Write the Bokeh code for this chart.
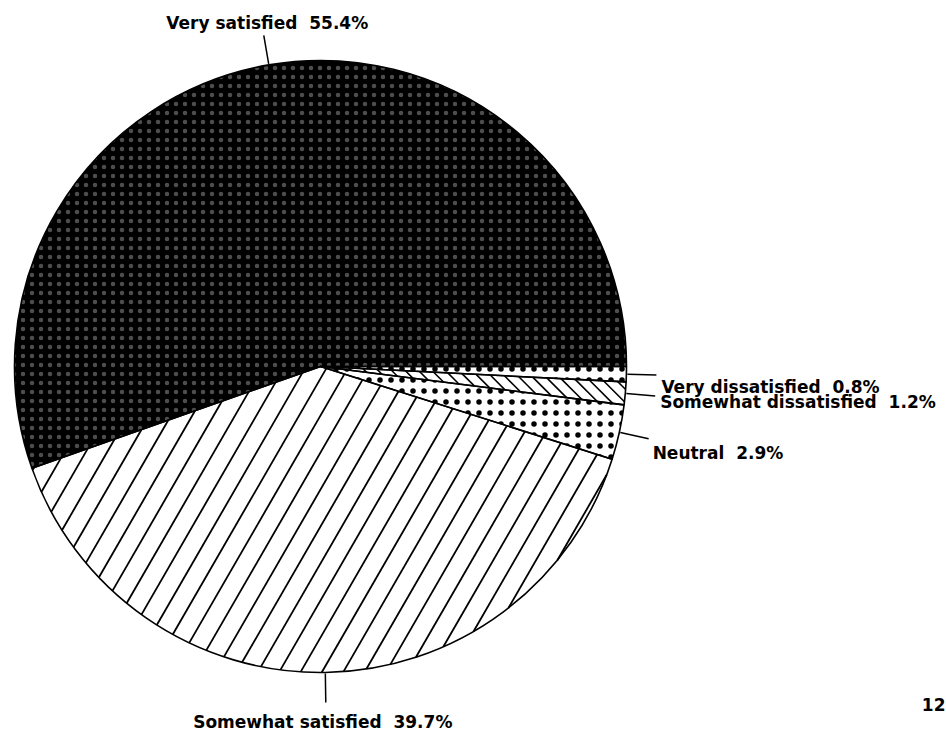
import math
from bokeh.plotting import figure
from bokeh.models import ColumnDataSource, Range1d
from bokeh.core.properties import value
from bokeh.embed import file_html
from bokeh.resources import INLINE

# ---- data ----
categories = ["Very satisfied", "Somewhat satisfied", "Neutral",
              "Somewhat dissatisfied", "Very dissatisfied"]
percent = [55.4, 39.7, 2.9, 1.2, 0.8]
page_label = "12"

# ---- layout (page pixels -> data units 1:1, y up) ----
W, H = 946, 731
def X(px):
    return px
def Y(py):
    return H - py

cx, cy = X(320), Y(366)
R = 306

p = figure(width=W, height=H, output_backend="svg", toolbar_location=None,
           x_range=Range1d(0, W), y_range=Range1d(0, H), min_border=0)
p.axis.visible = False
p.grid.visible = False
p.outline_line_color = None
p.background_fill_color = "white"
p.border_fill_color = "white"

# angles
starts, ends = [], []
acc = 0.0
for v in percent:
    starts.append(acc / 100 * 2 * math.pi)
    acc += v
    ends.append(acc / 100 * 2 * math.pi)
mids = [(a + b) / 2 for a, b in zip(starts, ends)]

fills = ["#000000", "white", "white", "white", "white"]
hatches = [".", None, ".", None, "."]
hatch_colors = ["white", "black", "black", "black", "black"]
hatch_scales = [9, 12, 11, 12, 11]
hatch_weights = [1.0, 1, 1.0, 1, 1.0]
hatch_alphas = [0.3, 1, 1, 1, 1]

for i in range(len(percent)):
    kw = dict(fill_color=fills[i], line_color=None)
    if hatches[i]:
        kw.update(hatch_pattern=hatches[i], hatch_color=hatch_colors[i],
                  hatch_scale=hatch_scales[i], hatch_weight=hatch_weights[i],
                  hatch_alpha=hatch_alphas[i])
    p.wedge(x=[cx], y=[cy], radius=R, start_angle=[starts[i]],
            end_angle=[ends[i]], **kw)

# line hatching computed inside the sectors
def cross(a, b):
    return a[0] * b[1] - a[1] * b[0]

def hatch_segments(a0, a1, theta_deg, spacing, offset=0.0):
    th = math.radians(theta_deg)
    u = (math.cos(th), math.sin(th))
    n = (-math.sin(th), math.cos(th))
    d0 = (math.cos(a0), math.sin(a0))
    d1 = (math.cos(a1), math.sin(a1))
    xs0, ys0, xs1, ys1 = [], [], [], []
    k = -R + offset
    while k < R:
        h = math.sqrt(max(R * R - k * k, 0))
        tmin, tmax = -h, h
        base = (k * n[0], k * n[1])
        ok = True
        for A, B in [(cross(d0, base), cross(d0, u)), (cross(base, d1), cross(u, d1))]:
            if abs(B) < 1e-12:
                if A < 0:
                    ok = False
            elif B > 0:
                tmin = max(tmin, -A / B)
            else:
                tmax = min(tmax, -A / B)
        if ok and tmax > tmin:
            xs0.append(cx + base[0] + tmin * u[0]); ys0.append(cy + base[1] + tmin * u[1])
            xs1.append(cx + base[0] + tmax * u[0]); ys1.append(cy + base[1] + tmax * u[1])
        k += spacing
    return xs0, ys0, xs1, ys1

s = hatch_segments(starts[1], ends[1], 60, 18.5, 4)
p.segment(x0=s[0], y0=s[1], x1=s[2], y1=s[3], line_color="black", line_width=1.8)
s = hatch_segments(starts[3], ends[3], -45, 9.5, 2)
p.segment(x0=s[0], y0=s[1], x1=s[2], y1=s[3], line_color="black", line_width=1.6)

# outlines
p.wedge(x=[cx] * len(percent), y=[cy] * len(percent), radius=R,
        start_angle=starts, end_angle=ends, fill_color=None,
        line_color="black", line_width=1.6)

# leader lines
r0, r1 = R + 1, R + 30
lx0 = [cx + r0 * math.cos(a) for a in mids]
ly0 = [cy + r0 * math.sin(a) for a in mids]
lx1 = [cx + r1 * math.cos(a) for a in mids]
ly1 = [cy + r1 * math.sin(a) for a in mids]
p.segment(x0=lx0, y0=ly0, x1=lx1, y1=ly1, line_color="black", line_width=1.5)

# labels (offset from leader ends, page pixels, down positive)
offsets = [(3.5, -12, "center"), (-3, 20, "center"), (4, 14, "left"),
           (5, 6, "left"), (5, 12, "left")]
labels = [f"{c}\u00a0 {v:.1f}%" for c, v in zip(categories, percent)]
font = value("DejaVu Sans")
for align in ("center", "left"):
    idx = [i for i in range(len(labels)) if offsets[i][2] == align]
    src = ColumnDataSource(dict(
        x=[lx1[i] + offsets[i][0] for i in idx],
        y=[ly1[i] - offsets[i][1] for i in idx],
        t=[labels[i] for i in idx]))
    p.text(x="x", y="y", text="t", source=src, text_font=font,
           text_font_style="bold", text_font_size="17px",
           text_align=align, text_baseline="alphabetic", text_color="black")

p.text(x=[X(945)], y=[Y(704)], text=[page_label], text_font=font,
       text_font_style="bold", text_font_size="17px", text_align="right",
       text_baseline="alphabetic", text_color="black")

open("out.html", "w").write(file_html(p, INLINE))
